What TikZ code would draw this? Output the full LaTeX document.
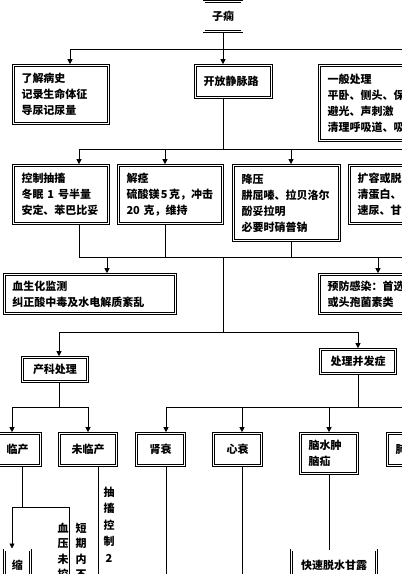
\documentclass[tikz,border=0pt]{standalone}
\usepackage{fontspec}
\newfontfamily\zhfont{Noto Sans CJK SC}
\usetikzlibrary{arrows.meta}

\begin{document}
\begin{tikzpicture}
[x=1pt, y=-1pt, line width=.8pt,
 box/.style={draw, line width=.6pt, double, double distance=1.4pt, inner xsep=8pt, inner ysep=0pt,
   font=\zhfont\bfseries\fontsize{11}{16}\selectfont},
 lbox/.style={box, align=left},
 cbox/.style={box, align=center},
 vtext/.style={inner sep=0pt, anchor=north, align=center, font=\zhfont\bfseries\fontsize{11}{15.5}\selectfont},
 arr/.style={-{Triangle[length=5pt,width=5pt]}, shorten >=1pt}]
\useasboundingbox (0,0) rectangle (402,574);
\clip (0,0) rectangle (402,574);

\node (zb) at (223,16.5) [cbox, minimum width=37pt, minimum height=30pt] {子痫};
\node (ljbs) at (61,94.5) [lbox, text width=79pt, minimum height=58pt] {了解病史\\记录生命体征\\导尿记尿量};
\node (kfjm) at (233.5,81.5) [lbox, text width=60pt, minimum height=32pt] {开放静脉路};
\node (ybcl) at (399,103) [lbox, text width=143pt, minimum height=75pt] {一般处理\\平卧、侧头、保\\避光、声刺激\\清理呼吸道、吸};

\node (kzcc) at (61,194.5) [lbox, text width=79pt, minimum height=58pt] {控制抽搐\\冬眠\hspace{4pt}1\hspace{4pt}号半量\\安定、苯巴比妥};
\node (jj) at (170.5,194.5) [lbox, text width=88pt, minimum height=58pt] {解痉\\硫酸镁\hspace{1.5pt}5\hspace{1.5pt}克，冲击\\20 克，维持};
\node (jy) at (286.5,203) [lbox, text width=90pt, minimum height=75pt, line width=.9pt] {降压\\肼屈嗪、拉贝洛尔\\酚妥拉明\\必要时硝普钠};
\node (kr) at (404,194.5) [lbox, text width=93pt, minimum height=58pt] {扩容或脱\\清蛋白、\\速尿、甘};

\node (xsh) at (90,294) [lbox, text width=155pt, minimum height=39pt] {血生化监测\\纠正酸中毒及水电解质紊乱};
\node (yfgr) at (399,294) [lbox, text width=143pt, minimum height=39pt] {预防感染：首选\\或头孢菌素类};

\node (ckcl) at (55,369.5) [cbox, minimum width=65pt, minimum height=24pt] {产科处理};
\node (clbf) at (358,361.5) [cbox, minimum width=75pt, minimum height=24pt] {处理并发症};

\node (lc) at (17.5,449.5) [cbox, minimum width=46pt, minimum height=32pt] {临产};
\node (wlc) at (88,449.5) [cbox, minimum width=57pt, minimum height=32pt] {未临产};
\node (sc) at (160.5,449.5) [cbox, minimum width=48pt, minimum height=32pt] {肾衰};
\node (xs) at (237.5,449.5) [cbox, minimum width=48pt, minimum height=32pt] {心衰};
\node (nsz) at (329,453.5) [lbox, text width=41pt, minimum height=40pt] {脑水肿\\脑疝};
\node (fsz) at (413,449.5) [lbox, text width=35pt, minimum height=32pt] {肺水肿};

\node (sg) at (17.5,549.5) [box, anchor=north, minimum width=26pt, inner xsep=2pt,
  text height=9pt, text depth=30pt, inner ysep=10.5pt] {缩};
\node (ksts) at (334,549.5) [box, anchor=north, minimum width=85pt,
  text height=9pt, text depth=30pt, inner ysep=10.5pt] {快速脱水甘露};

\node (xywk) at (63,522.5) [vtext] {血\\压\\未\\控};
\node (dqnb) at (81,522.5) [vtext] {短\\期\\内\\不};
\node (cckz) at (109,486.5) [vtext, font=\zhfont\bfseries\fontsize{11}{16.5}\selectfont] {抽\\搐\\控\\制\\2};

% first row
\coordinate (t1) at (70,49);
\coordinate (t2) at (223,49);
\coordinate (t3) at (410,49);
\draw (zb.south) -- (t2);
\draw (t1) -- (t3);
\draw [arr] (t1) -- (t1 |- ljbs.north);
\draw [arr] (t2) -- (t2 |- kfjm.north);

% second row
\coordinate (u0) at (223,149);
\coordinate (u1) at (79,149);
\coordinate (u2) at (165,149);
\coordinate (u3) at (291,149);
\coordinate (u4) at (410,149);
\draw (u0 |- kfjm.south) -- (u0);
\draw (u1) -- (u4);
\draw [arr] (u1) -- (u1 |- kzcc.north);
\draw [arr] (u2) -- (u2 |- jj.north);
\draw [arr] (u3) -- (u3 |- jy.north);

% third row
\coordinate (v1) at (79,257);
\coordinate (v2) at (165,257);
\coordinate (v3) at (291,257);
\coordinate (v4) at (107,257);
\coordinate (v5) at (378,257);
\coordinate (v6) at (223,257);
\coordinate (v7) at (410,257);
\draw (v1 |- kzcc.south) -- (v1);
\draw (v2 |- jj.south) -- (v2);
\draw (v3 |- jy.south) -- (v3);
\draw (v1) -- (v7);
\draw [arr] (v4) -- (v4 |- xsh.north);
\draw [arr] (v5) -- (v5 |- yfgr.north);

% obstetric / complications
\coordinate (w0) at (223,332);
\coordinate (w1) at (59,332);
\coordinate (w2) at (358,332);
\draw (v6) -- (w0);
\draw (w1) -- (w2);
\draw [arr] (w1) -- (w1 |- ckcl.north);
\draw [arr] (w2) -- (w2 |- clbf.north);

\coordinate (x0) at (59,407);
\coordinate (x1) at (12,407);
\coordinate (x2) at (88,407);
\draw (x0 |- ckcl.south) -- (x0);
\draw (x1) -- (x2);
\draw [arr] (x1) -- (x1 |- lc.north);
\draw [arr] (x2) -- (x2 |- wlc.north);

\coordinate (y0) at (358,407);
\coordinate (y1) at (166,407);
\coordinate (y2) at (242,407);
\coordinate (y3) at (329,407);
\coordinate (y4) at (410,407);
\draw (clbf.south) -- (y0);
\draw (y1) -- (y4);
\draw [arr] (y1) -- (y1 |- sc.north);
\draw [arr] (y2) -- (y2 |- xs.north);
\draw [arr] (y3) -- (y3 |- nsz.north);

% bottom
\coordinate (z0) at (22,507);
\coordinate (z1) at (12,507);
\coordinate (z2) at (69,507);
\coordinate (z3) at (69,580);
\draw (z0 |- lc.south) -- (z0);
\draw (z1) -- (z2) -- (z3);
\draw [arr] (z1) -- (z1 |- sg.north);
\coordinate (e1) at (98,580);
\coordinate (e2) at (166,580);
\coordinate (e3) at (242,580);
\draw (e1 |- wlc.south) -- (e1);
\draw (e2 |- sc.south) -- (e2);
\draw (e3 |- xs.south) -- (e3);
\draw (nsz.south) -- (nsz.south |- ksts.north);
\end{tikzpicture}
\end{document}
